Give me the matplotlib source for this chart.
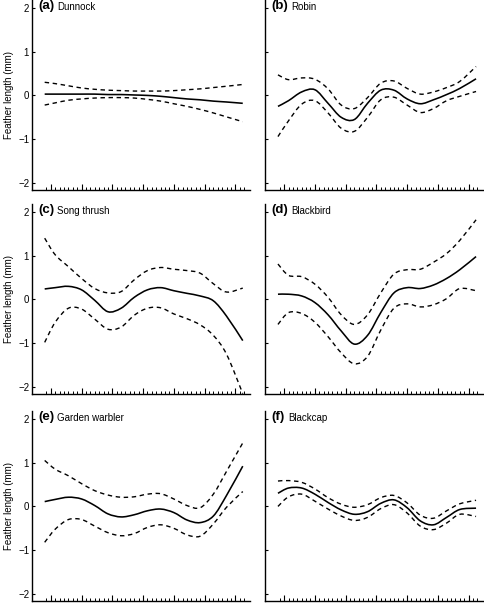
import numpy as np
import matplotlib.pyplot as plt
from matplotlib.path import Path
from matplotlib.patches import PathPatch

plt.rcParams['font.family'] = ['Liberation Sans', 'DejaVu Sans']

# common x grid (sampling position along the axis)
x = [5.6, 8, 11, 14, 17, 20, 23, 26, 29, 32, 35, 38, 41, 44, 47, 50.7]

labels = ['(a)', '(b)', '(c)', '(d)', '(e)', '(f)']
species = ['Dunnock', 'Robin', 'Song thrush', 'Blackbird', 'Garden warbler', 'Blackcap']

# (a) Dunnock
fit_a = [0.03, 0.03, 0.03, 0.03, 0.03, 0.02, 0.02, 0.01, 0.0, -0.02, -0.05, -0.08, -0.10, -0.13, -0.15, -0.18]
up_a = [0.30, 0.27, 0.22, 0.17, 0.14, 0.12, 0.11, 0.10, 0.10, 0.10, 0.11, 0.13, 0.15, 0.18, 0.21, 0.25]
lo_a = [-0.22, -0.17, -0.11, -0.08, -0.06, -0.05, -0.05, -0.06, -0.09, -0.13, -0.19, -0.25, -0.32, -0.40, -0.49, -0.60]

# (b) Robin
fit_b = [-0.25, -0.12, 0.08, 0.13, -0.18, -0.50, -0.55, -0.18, 0.12, 0.12, -0.08, -0.19, -0.10, 0.02, 0.16, 0.38]
up_b = [0.47, 0.36, 0.40, 0.37, 0.15, -0.22, -0.30, -0.05, 0.28, 0.33, 0.16, 0.03, 0.08, 0.18, 0.32, 0.66]
lo_b = [-0.94, -0.58, -0.20, -0.12, -0.40, -0.75, -0.82, -0.50, -0.10, -0.04, -0.22, -0.39, -0.30, -0.12, -0.02, 0.09]

# (c) Song thrush
fit_c = [0.24, 0.27, 0.30, 0.22, -0.02, -0.28, -0.20, 0.05, 0.22, 0.27, 0.20, 0.14, 0.08, -0.03, -0.38, -0.94]
up_c = [1.40, 1.02, 0.75, 0.48, 0.25, 0.15, 0.18, 0.45, 0.66, 0.73, 0.69, 0.66, 0.60, 0.36, 0.17, 0.26]
lo_c = [-0.98, -0.52, -0.20, -0.22, -0.45, -0.68, -0.63, -0.36, -0.20, -0.19, -0.33, -0.44, -0.58, -0.82, -1.25, -2.15]

# (d) Blackbird
fit_d = [0.12, 0.12, 0.08, -0.07, -0.35, -0.72, -1.02, -0.82, -0.30, 0.15, 0.27, 0.25, 0.33, 0.48, 0.68, 0.98]
up_d = [0.81, 0.55, 0.52, 0.35, 0.05, -0.35, -0.57, -0.35, 0.15, 0.58, 0.68, 0.69, 0.85, 1.05, 1.35, 1.82]
lo_d = [-0.57, -0.30, -0.32, -0.52, -0.85, -1.22, -1.47, -1.30, -0.70, -0.20, -0.10, -0.17, -0.12, 0.02, 0.25, 0.20]

# (e) Garden warbler
fit_e = [0.11, 0.16, 0.21, 0.17, 0.02, -0.17, -0.24, -0.19, -0.10, -0.06, -0.14, -0.31, -0.37, -0.22, 0.25, 0.92]
up_e = [1.05, 0.85, 0.70, 0.52, 0.36, 0.26, 0.21, 0.22, 0.28, 0.29, 0.17, 0.02, -0.03, 0.28, 0.80, 1.45]
lo_e = [-0.82, -0.52, -0.30, -0.30, -0.45, -0.60, -0.67, -0.62, -0.48, -0.42, -0.50, -0.65, -0.68, -0.40, -0.02, 0.34]

# (f) Blackcap
fit_f = [0.30, 0.42, 0.42, 0.28, 0.09, -0.08, -0.18, -0.12, 0.07, 0.15, -0.03, -0.33, -0.42, -0.25, -0.07, -0.04]
up_f = [0.58, 0.59, 0.55, 0.40, 0.20, 0.05, -0.02, 0.04, 0.20, 0.25, 0.08, -0.20, -0.27, -0.10, 0.06, 0.14]
lo_f = [0.0, 0.22, 0.28, 0.12, -0.06, -0.22, -0.32, -0.25, -0.05, 0.04, -0.15, -0.45, -0.53, -0.38, -0.18, -0.23]

fits = [fit_a, fit_b, fit_c, fit_d, fit_e, fit_f]
ups = [up_a, up_b, up_c, up_d, up_e, up_f]
los = [lo_a, lo_b, lo_c, lo_d, lo_e, lo_f]

major_x = [7, 14, 21, 28, 35, 42, 49]
minor_x = [v for v in range(6, 52) if v not in major_x]


def smooth_path(xs, ys):
    # bezier path through the read points (catmull-rom style handles)
    p = np.column_stack([xs, ys]).astype(float)
    ext = np.vstack([p[0], p, p[-1]])
    verts = [p[0]]
    codes = [Path.MOVETO]
    for k in range(len(p) - 1):
        c1 = p[k] + (ext[k + 2] - ext[k]) / 6.0
        c2 = p[k + 1] - (ext[k + 3] - ext[k + 1]) / 6.0
        verts += [c1, c2, p[k + 1]]
        codes += [Path.CURVE4] * 3
    return Path(verts, codes)


def draw(ax, xs, ys, dashed=False):
    patch = PathPatch(smooth_path(xs, ys), fill=False, edgecolor='black',
                      lw=1.0 if dashed else 1.15, capstyle='butt')
    if dashed:
        patch.set_linestyle((0, (3.2, 2.6)))
    ax.add_patch(patch)


fig = plt.figure(figsize=(4.84, 6.06), dpi=100)

lefts = [0.066, 0.548]
bottoms = [0.6865, 0.3498, 0.0083]
w = 0.451
h = 0.3135

for i in range(6):
    row, col = divmod(i, 2)
    ax = fig.add_axes([lefts[col], bottoms[row], w, h])
    draw(ax, x, fits[i])
    draw(ax, x, ups[i], dashed=True)
    draw(ax, x, los[i], dashed=True)

    ax.set_xlim(2.7, 52.4)
    ax.set_ylim(-2.16, 2.18)
    ax.spines['top'].set_visible(False)
    ax.spines['right'].set_visible(False)
    ax.spines['left'].set_linewidth(1.0)
    ax.spines['bottom'].set_linewidth(1.0)

    ax.set_xticks(major_x)
    ax.set_xticks(minor_x, minor=True)
    ax.set_xticklabels([])
    ax.set_yticks([-2, -1, 0, 1, 2])
    ax.tick_params(axis='x', which='major', direction='in', length=4, width=0.8)
    ax.tick_params(axis='x', which='minor', direction='in', length=2.2, width=0.7)
    ax.tick_params(axis='y', direction='in', length=2.5, width=0.8, labelsize=7, pad=2)
    if col == 0:
        ax.set_yticklabels(['\u22122', '\u22121', '0', '1', '2'])
        ax.set_ylabel('Feather length (mm)', fontsize=7, labelpad=3)
    else:
        ax.set_yticklabels([])

    lab = ax.text(0.03, 0.955, labels[i], transform=ax.transAxes, fontsize=9.5,
                  fontweight='bold', va='baseline', ha='left')
    ax.annotate(species[i], xy=(1, 0), xycoords=lab, xytext=(2, 0),
                textcoords='offset points', fontsize=7, va='bottom', ha='left')

fig.savefig('out.png', dpi=100)
